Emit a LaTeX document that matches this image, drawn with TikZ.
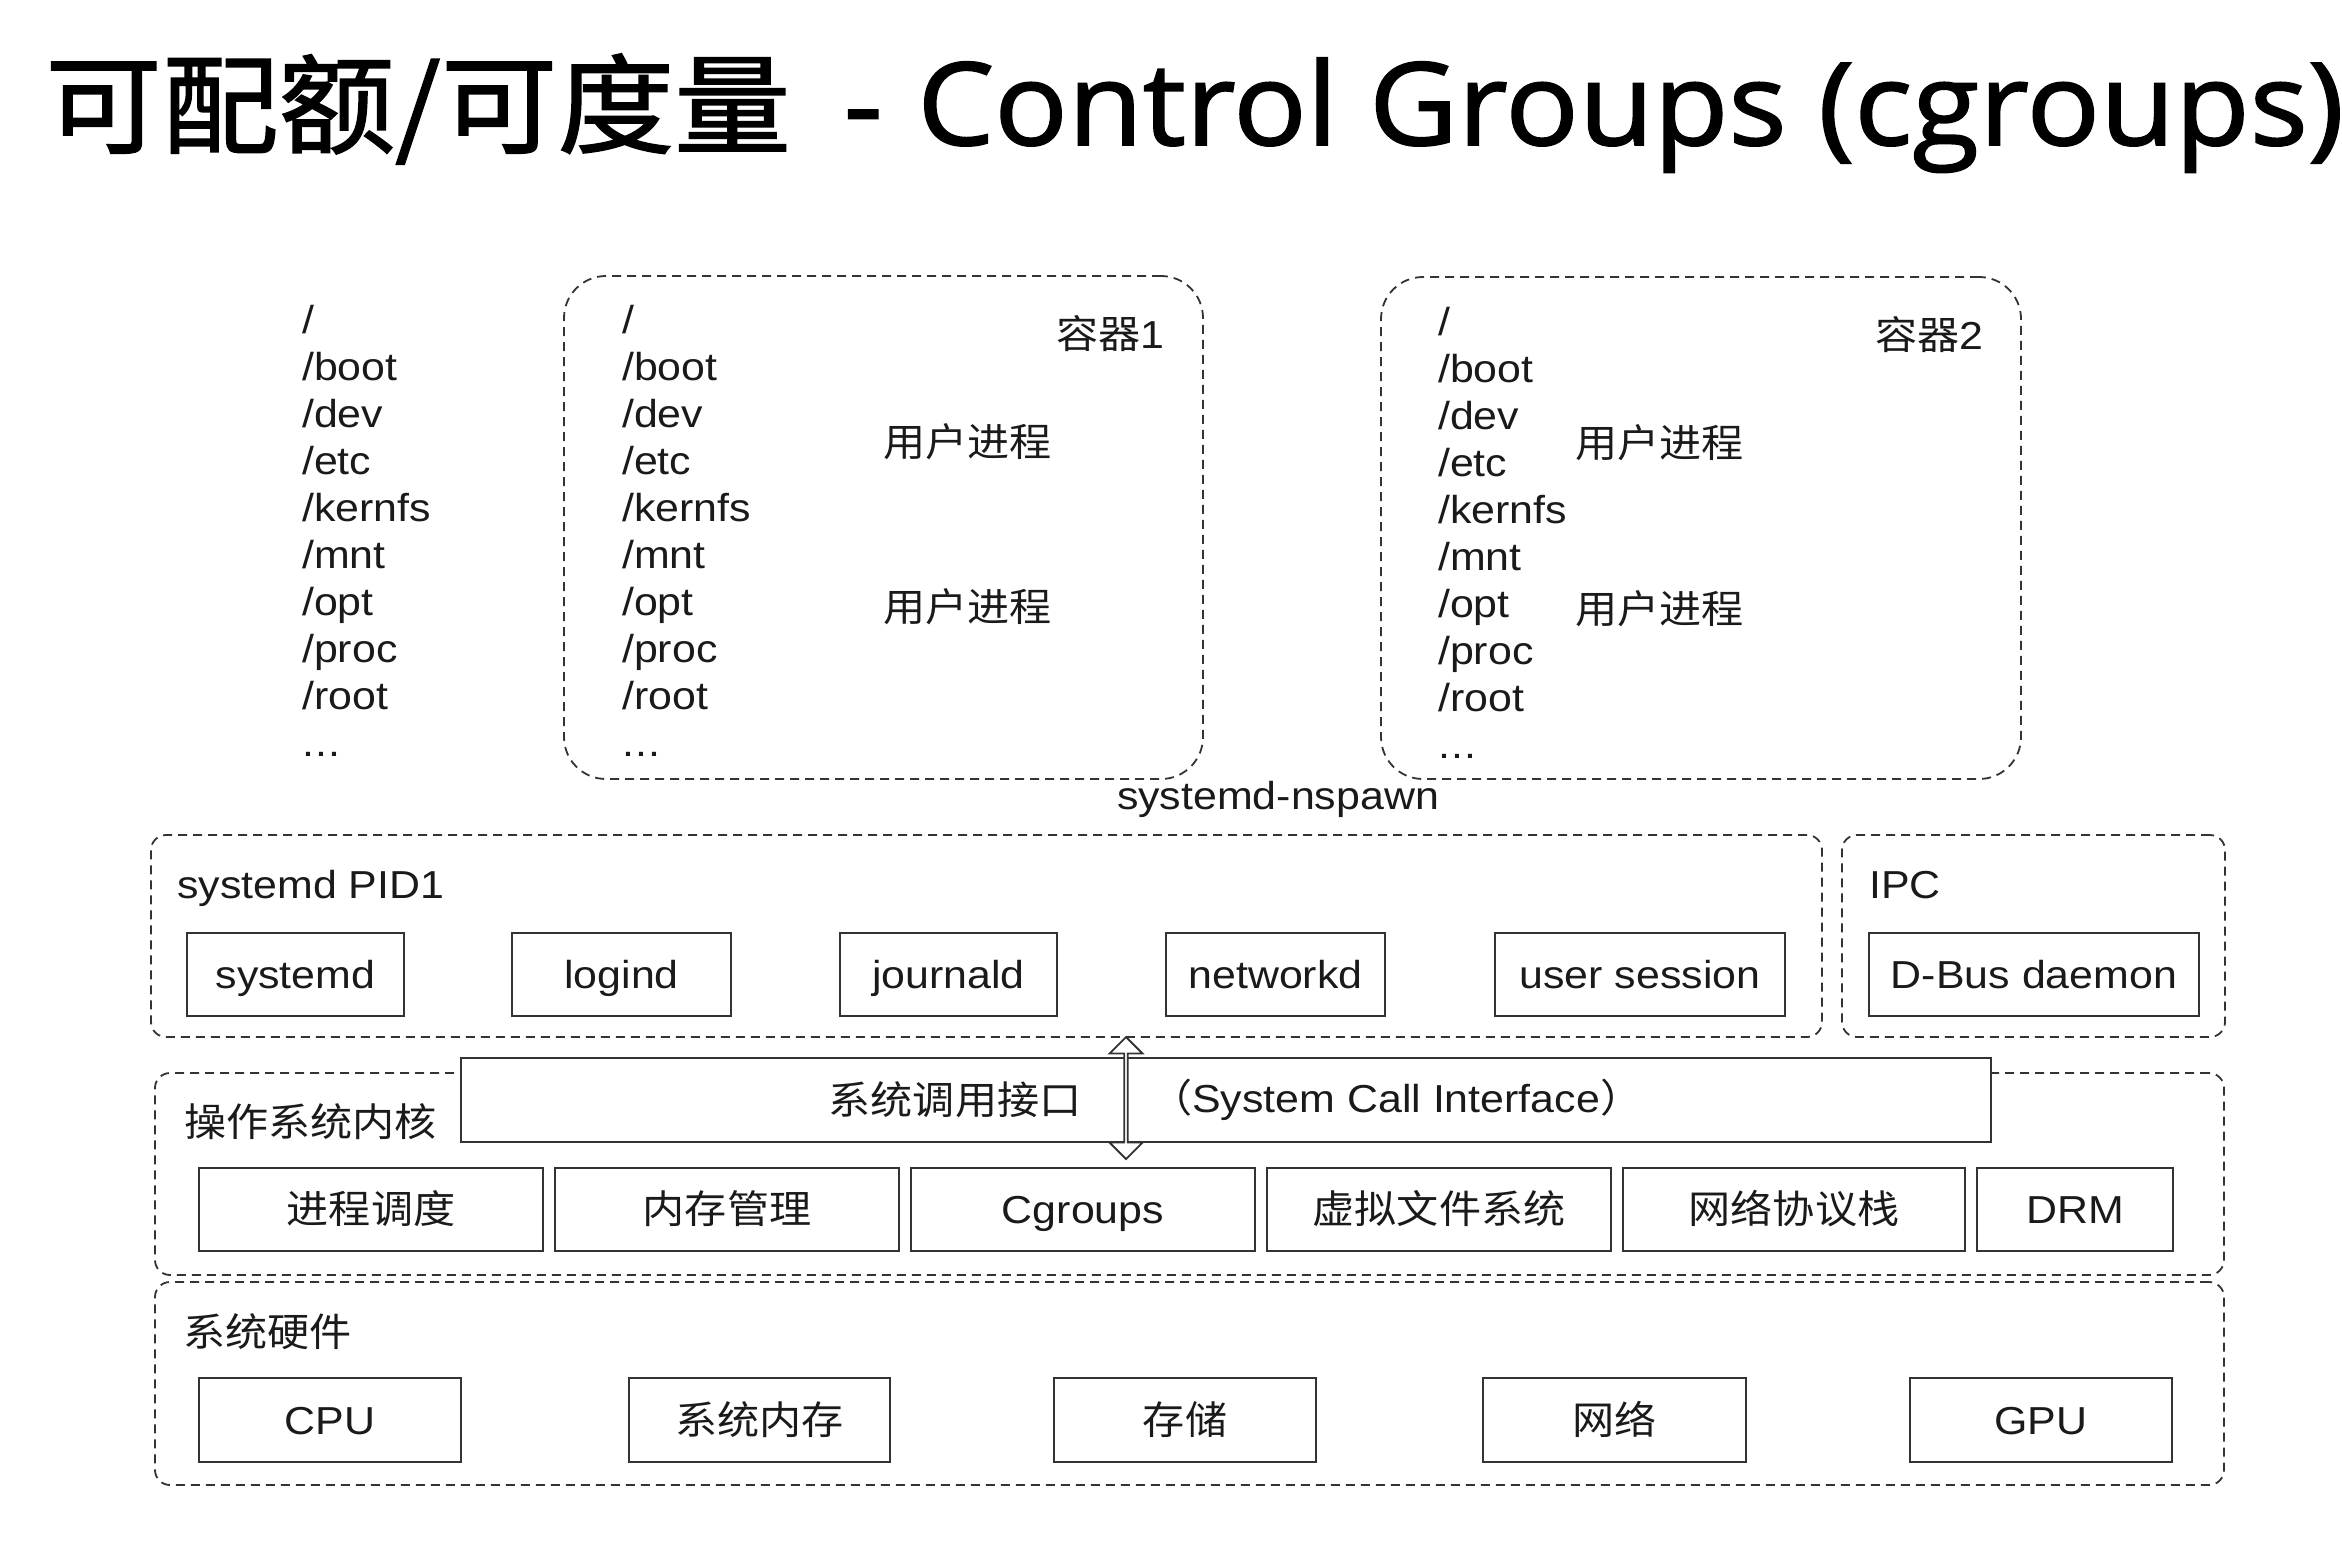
\documentclass[tikz,border=0pt]{standalone}
\usepackage{fontspec}
\usetikzlibrary{shapes.arrows}
\setmainfont{Liberation Sans}[FakeStretch=1.1]
\newfontfamily\cjk{Noto Sans CJK SC}[FakeStretch=1.08]
\newfontfamily\titlecjk{Noto Sans CJK SC}[FakeBold=1.5, FakeStretch=1.08]
\newfontfamily\titlelat{Open Sans}[FakeStretch=1.06, FakeBold=1.5]
\newcommand\labfont{\fontsize{39}{47}\selectfont}
\definecolor{linec}{HTML}{333333}
\definecolor{txtc}{HTML}{1A1A1A}
\tikzset{
  box/.style={draw=linec, line width=2pt, inner sep=0pt, font=\labfont, text=txtc,
              text height=28pt, text depth=0pt},
  dbox/.style={draw=linec, line width=1.8pt, dash pattern=on 9pt off 6pt, rounded corners=15pt, inner sep=0pt},
  cbox/.style={dbox, rounded corners=42pt},
  txt/.style={inner sep=0pt, font=\labfont, text=txtc},
}
% \place[style]{name}{x1}{x2}{y1}{y2}{text}
\newcommand\place[7][]{%
  \node[#1, minimum width={(#4-#3)*1pt}, minimum height={(#6-#5)*1pt}] (#2) at ({(#3+#4)/2},{(#5+#6)/2}) {#7};}
\begin{document}
\begin{tikzpicture}[x=1pt,y=-1pt]
\useasboundingbox (0,0) rectangle (2342,1568);

% title
\node[anchor=base west, inner sep=0pt, text=black] (title) at (45,145)
  {\titlecjk\fontsize{108}{120}\selectfont 可配额/可度量};
\node[anchor=base east, inner sep=0pt, text=black] (title2) at (2344,145)
  {\titlelat\fontsize{115}{120}\selectfont -\hspace{0.3em}Control Groups (cgroups)};

% containers
\place[cbox]{c1}{564}{1203}{276}{779}{}
\place[cbox]{c2}{1381}{2021}{277}{779}{}

% filesystem lists
\foreach \t [count=\i] in {/,/boot,/dev,/etc,/kernfs,/mnt,/opt,/proc,/root}{
  \node[txt, anchor=base west] (L\i) at (302,{333+47*(\i-1)}) {\t};
  \node[txt, anchor=base west] (A\i) at (622,{333+47*(\i-1)}) {\t};
  \node[txt, anchor=base west] (B\i) at (1438,{335+47*(\i-1)}) {\t};
}
\node[txt, anchor=base west] (L10) at (302,756) {.\kern1pt.\kern1pt.};
\node[txt, anchor=base west] (A10) at (622,756) {.\kern1pt.\kern1pt.};
\node[txt, anchor=base west] (B10) at (1438,758) {.\kern1pt.\kern1pt.};

\node[txt, anchor=east] (k1) at (1165,334) {{\cjk 容器}1};
\node[txt, anchor=east] (k2) at (1984,335) {{\cjk 容器}2};
\node[txt, anchor=west] (u1) at (883,442) {\cjk 用户进程};
\node[txt, anchor=west] (u2) at (883,607) {\cjk 用户进程};
\node[txt, anchor=west] (u3) at (1575,443) {\cjk 用户进程};
\node[txt, anchor=west] (u4) at (1575,609) {\cjk 用户进程};
\node[txt, anchor=base] (nspawn) at (1278,809) {systemd-nspawn};

% group boxes
\place[dbox]{pid1}{151}{1822}{835}{1037}{}
\place[dbox]{ipc}{1842}{2225}{835}{1037}{}
\place[dbox]{kernel}{155}{2224}{1073}{1275}{}
\place[dbox]{hw}{155}{2224}{1282}{1485}{}

\node[txt, anchor=base west] (pidl) at (177,898) {systemd PID1};
\node[txt, anchor=base west] (ipcl) at (1869,898) {IPC};
\node[txt, anchor=west] (kernl) at (184,1122) {\cjk 操作系统内核};
\node[txt, anchor=west] (hwl) at (183,1332) {\cjk 系统硬件};

% systemd components
\place[box]{s1}{187}{404}{933}{1016}{systemd}
\place[box]{s2}{512}{731}{933}{1016}{logind}
\place[box]{s3}{840}{1057}{933}{1016}{journald}
\place[box]{s4}{1166}{1385}{933}{1016}{networkd}
\place[box]{s5}{1495}{1785}{933}{1016}{user session}
\place[box]{s6}{1869}{2199}{933}{1016}{D-Bus daemon}

% system call interface
\place[box, fill=white]{sci}{461}{1991}{1058}{1142}{}
\node[txt] (scil) at (955,1100) {\cjk 系统调用接口};
\node[txt, anchor=west] (scir) at (1150,1100) {{\cjk （}System Call Interface{\cjk ）}};

% double arrow
\node[draw=linec, line width=1.8pt, fill=white, double arrow, shape border rotate=90,
      minimum height=122pt, minimum width=33pt, inner sep=0pt,
      double arrow head extend=8pt] (arr) at (1126,1098) {};

% kernel components
\place[box]{k1b}{199}{543}{1168}{1251}{\cjk 进程调度}
\place[box]{k2b}{555}{899}{1168}{1251}{\cjk 内存管理}
\place[box]{k3b}{911}{1255}{1168}{1251}{Cgroups}
\place[box]{k4b}{1267}{1611}{1168}{1251}{\cjk 虚拟文件系统}
\place[box]{k5b}{1623}{1965}{1168}{1251}{\cjk 网络协议栈}
\place[box]{k6b}{1977}{2173}{1168}{1251}{DRM}

% hardware components
\place[box]{h1}{199}{461}{1378}{1462}{CPU}
\place[box]{h2}{629}{890}{1378}{1462}{\cjk 系统内存}
\place[box]{h3}{1054}{1316}{1378}{1462}{\cjk 存储}
\place[box]{h4}{1483}{1746}{1378}{1462}{\cjk 网络}
\place[box]{h5}{1910}{2172}{1378}{1462}{GPU}
\end{tikzpicture}
\end{document}
